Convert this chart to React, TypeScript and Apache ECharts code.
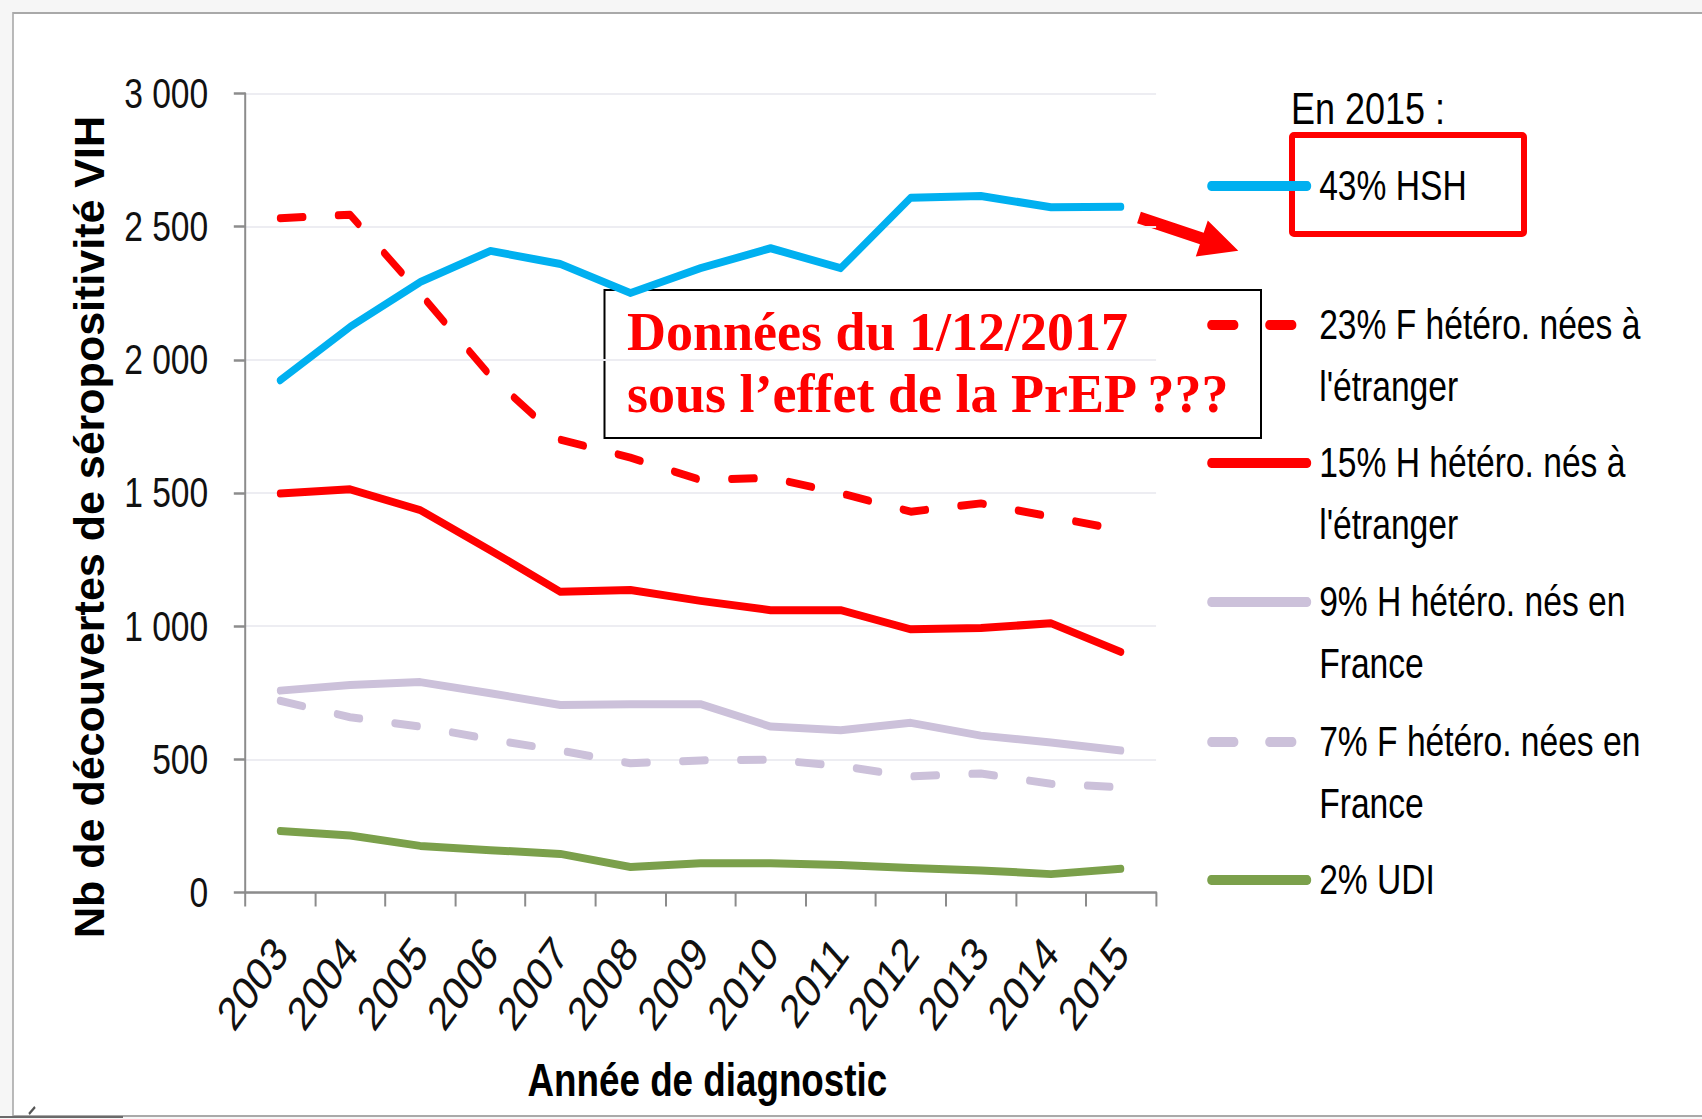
import React, { useEffect, useRef } from 'react';
import * as echarts from 'echarts';

// ---- Data ----
const years = ['2003', '2004', '2005', '2006', '2007', '2008', '2009', '2010', '2011', '2012', '2013', '2014', '2015'];

const seriesNames = [
  '43% HSH',
  "23% F hétéro. nées à l'étranger",
  "15% H hétéro. nés à l'étranger",
  '9% H hétéro. nés en France',
  '7% F hétéro. nées en France',
  '2% UDI',
];

const hsh = [1923, 2124, 2292, 2409, 2360, 2251, 2344, 2419, 2344, 2609, 2615, 2573, 2575];
const fHeteroEtranger = [2532, 2545, 2249, 1940, 1700, 1633, 1549, 1557, 1499, 1430, 1461, 1411, 1361];
const hHeteroEtranger = [1498, 1514, 1436, 1285, 1129, 1136, 1095, 1060, 1060, 988, 993, 1011, 903];
const hHeteroFrance = [758, 779, 790, 748, 704, 707, 707, 623, 609, 637, 589, 563, 533];
const fHeteroFrance = [720, 658, 623, 575, 533, 485, 496, 499, 475, 436, 447, 408, 395];
const udi = [231, 214, 175, 159, 145, 96, 110, 110, 103, 92, 83, 69, 89];

const yMin = 0;
const yMax = 3000;
const yStep = 500;

const legendTitle = 'En 2015 :';
const noteLines = ['Données du 1/12/2017', 'sous l’effet de la PrEP ???'];
const xAxisTitle = 'Année de diagnostic';
const yAxisTitle = 'Nb de découvertes de séropositivité VIH';

// ---- Styles / layout ----
// The original chart is horizontally squeezed (narrow, tall glyphs); the chart is
// rendered wider and squeezed with a CSS scaleX. Overlays are drawn unsqueezed.
const K = 0.8;
const W = 1702;
const H = 1119;
const PW = W / K; // pre-squeeze width
const px = (x: number) => x / K;

const SANS = "'Liberation Sans', Arial, sans-serif";
const SERIF = "'Liberation Serif', 'Times New Roman', serif";

const colors = ['#00b0f0', '#ff0000', '#ff0000', '#ccc1da', '#ccc1da', '#7ba04b'];
const dashed = [false, true, false, false, true, false];
const DASH = [29, 43.5];
const legendIconCenters = [186, 325, 463, 602, 742, 880];

const seriesValues = [hsh, fHeteroEtranger, hHeteroEtranger, hHeteroFrance, fHeteroFrance, udi];

function formatThousands(v: number): string {
  if (v >= 1000) {
    const th = Math.floor(v / 1000);
    const rest = String(v % 1000).padStart(3, '0');
    return `${th} ${rest}`;
  }
  return String(v);
}

function legendLabel(name: string): string {
  const broken = name.replace(" l'étranger", "\nl'étranger").replace(' France', '\nFrance');
  // a blank first line keeps the first text line level with the icon
  return broken.includes('\n') ? ' \n' + broken : broken;
}

export default function App() {
  const ref = useRef<HTMLDivElement>(null);

  useEffect(() => {
    if (!ref.current) return;
    const chart = echarts.init(ref.current, undefined, { renderer: 'svg' });

    const LH = 62;
    const legends = seriesNames.map((name, i) => {
      const twoLines = legendLabel(name).includes('\n');
      const boxH = twoLines ? 3 * LH : LH;
      return {
        data: [name],
        orient: 'vertical',
        left: 1509,
        top: legendIconCenters[i] - boxH / 2,
        padding: 0,
        itemWidth: 120,
        itemHeight: 12,
        selectedMode: false,
        formatter: legendLabel,
        lineStyle: { width: 10 },
        itemStyle: { opacity: 0 },
        textStyle: {
          fontFamily: SANS,
          fontSize: 42,
          color: '#000',
          lineHeight: LH,
          padding: [0, 0, 0, 10],
        },
      };
    });

    const arrowPts = [
      [1137.1, 223.2],
      [1199.9, 244.2],
      [1195.8, 256.5],
      [1238.3, 250.7],
      [1207.8, 220.5],
      [1203.7, 232.8],
      [1140.9, 211.8],
    ];

    const option: any = {
      animation: false,
      backgroundColor: '#f6f6f6',
      grid: { left: px(245), top: 93.5, right: PW - px(1155.7), bottom: H - 892.5 },
      xAxis: {
        type: 'category',
        data: years,
        boundaryGap: true,
        axisLine: { lineStyle: { color: '#8c8c8c', width: 2.5 } },
        axisTick: { show: true, length: 14, alignWithLabel: false, lineStyle: { color: '#8c8c8c', width: 2.5 } },
        axisLabel: { rotate: 48, margin: 52, interval: 0, fontSize: 47, fontFamily: SANS, color: '#111' },
        splitLine: { show: false },
        name: xAxisTitle,
        nameLocation: 'middle',
        nameGap: 164,
        nameTextStyle: { fontFamily: SANS, fontWeight: 'bold', fontSize: 46, color: '#000', padding: [0, 0, 0, 17] },
      },
      yAxis: {
        type: 'value',
        min: yMin,
        max: yMax,
        interval: yStep,
        axisLine: { show: true, lineStyle: { color: '#8c8c8c', width: 2.5 } },
        axisTick: { show: true, length: 14, lineStyle: { color: '#8c8c8c', width: 2.5 } },
        axisLabel: { margin: 46, fontSize: 42, fontFamily: SANS, color: '#111', formatter: formatThousands },
        splitLine: { show: true, lineStyle: { color: '#ededf2', width: 2 } },
      },
      legend: legends,
      series: seriesNames.map((name, i) => ({
        name,
        type: 'line',
        data: seriesValues[i],
        symbol: 'none',
        silent: true,
        color: colors[i],
        lineStyle: {
          color: colors[i],
          width: 8,
          type: dashed[i] ? DASH : 'solid',
          cap: 'round',
          join: 'round',
        },
        emphasis: { disabled: true },
      })),
      graphic: [
        {
          type: 'rect',
          z: -100,
          shape: { x: px(13), y: 13, width: PW + 40, height: 1103 },
          style: { fill: '#ffffff', stroke: '#a9a9a9', lineWidth: 2 },
        },
        {
          type: 'line',
          shape: { x1: 0, y1: 1117, x2: px(123), y2: 1117 },
          style: { stroke: '#6a6a6a', lineWidth: 2 },
        },
        {
          type: 'line',
          shape: { x1: px(29), y1: 1114, x2: px(35), y2: 1107 },
          style: { stroke: '#555', lineWidth: 2.5 },
        },
        {
          type: 'text',
          x: px(1291),
          y: 109,
          style: { text: legendTitle, fontFamily: SANS, fontSize: 45, fill: '#000', align: 'left', verticalAlign: 'middle' },
        },
        {
          type: 'group',
          x: 0,
          y: 0,
          scaleX: 1 / K,
          children: [
            {
              type: 'text',
              x: 89,
              y: 527,
              rotation: Math.PI / 2,
              style: { text: yAxisTitle, fontFamily: SANS, fontWeight: 'bold', fontSize: 43, fill: '#000', align: 'center', verticalAlign: 'middle' },
            },
            {
              type: 'rect',
              shape: { x: 1292, y: 135, width: 232, height: 99, r: 2 },
              style: { fill: 'none', stroke: '#ff0000', lineWidth: 6 },
            },
            {
              type: 'polygon',
              shape: { points: arrowPts },
              style: { fill: '#ff0000' },
            },
            {
              type: 'rect',
              shape: { x: 604.5, y: 290, width: 656.5, height: 148 },
              style: { fill: 'none', stroke: '#000', lineWidth: 2 },
            },
            {
              type: 'text',
              x: 627,
              y: 332,
              style: { text: noteLines[0], fontFamily: SERIF, fontWeight: 'bold', fontSize: 54, fill: '#ff0000', align: 'left', verticalAlign: 'middle' },
            },
            {
              type: 'text',
              x: 627,
              y: 394,
              style: { text: noteLines[1], fontFamily: SERIF, fontWeight: 'bold', fontSize: 54, fill: '#ff0000', align: 'left', verticalAlign: 'middle' },
            },
          ],
        },
      ],
    };

    chart.setOption(option);
    return () => chart.dispose();
  }, []);

  return (
    <div style={{ position: 'fixed', left: 0, top: 0, width: W, height: H, overflow: 'hidden' }}>
      <div
        ref={ref}
        style={{ width: PW, height: H, transform: `scaleX(${K})`, transformOrigin: '0 0' }}
      />
    </div>
  );
}
